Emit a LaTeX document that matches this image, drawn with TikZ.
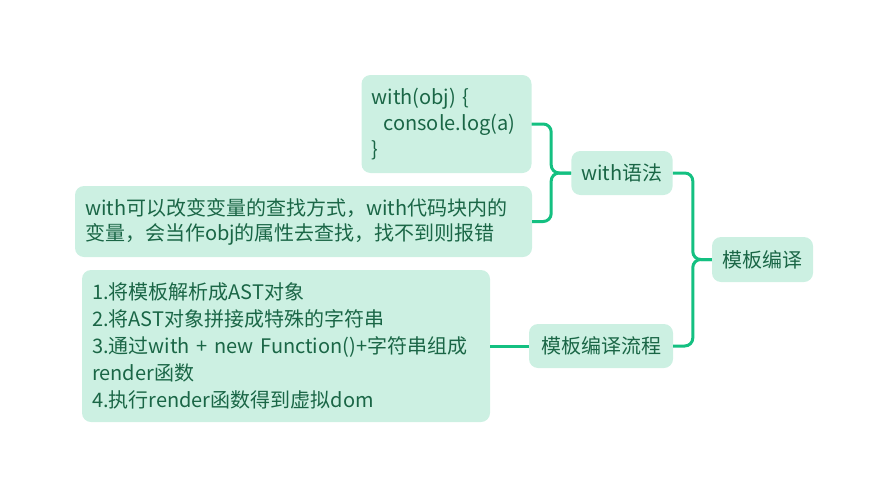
\documentclass[tikz,border=0pt]{standalone}
\usepackage{fontspec}
\setmainfont{Noto Sans CJK SC}
\definecolor{leaf}{HTML}{CCF0E2}
\definecolor{ink}{HTML}{1A6646}
\definecolor{branch}{HTML}{14C081}
\begin{document}
\begin{tikzpicture}[x=1pt,y=1pt,
	every node/.style={rectangle,rounded corners=9pt,fill=leaf,text=ink,font=\fontsize{20}{26}\selectfont,inner xsep=10pt,inner ysep=0pt},
	link/.style={draw=branch,line width=3pt,rounded corners=8pt}]
	\useasboundingbox (0,0) rectangle (889,-498);
	% topics
	\node[minimum width=101pt,minimum height=45pt] (root) at (762.5,-259.5) {模板编译};
	\node[minimum width=101pt,minimum height=44pt] (with) at (622,-173) {with语法};
	\node[minimum width=144pt,minimum height=44pt] (flow) at (601,-346) {模板编译流程};
	% leaves
	\node[text width=150pt,minimum height=98pt,align=left] (code) at (446.5,-124)
		{with(obj) \{\\\hspace*{12pt}console.log(a)\\\}};
	\node[text width=437pt,minimum height=71pt,align=left,font=\fontsize{20}{25}\selectfont] (desc) at (303.5,-221.5)
		{with可以改变变量的查找方式，with代码块内的\\变量，会当作obj的属性去查找，找不到则报错};
	\node[text width=388pt,minimum height=152pt,align=left,font=\fontsize{20}{27}\selectfont] (proc) at (286,-346)
		{1.将模板解析成AST对象\\2.将AST对象拼接成特殊的字符串\\3.通过with + new Function()+字符串组成\\render函数\\4.执行render函数得到虚拟dom};
	% branches
	\draw[link] (root.west) -- ++(-19,0) |- (with.east);
	\draw[link] (root.west) -- ++(-19,0) |- (flow.east);
	\draw[link] (with.west) -- ++(-20,0) |- (code.east);
	\draw[link] (with.west) -- ++(-20,0) |- (desc.east);
	\draw[link] (flow.west) -- (proc.east);
\end{tikzpicture}
\end{document}
